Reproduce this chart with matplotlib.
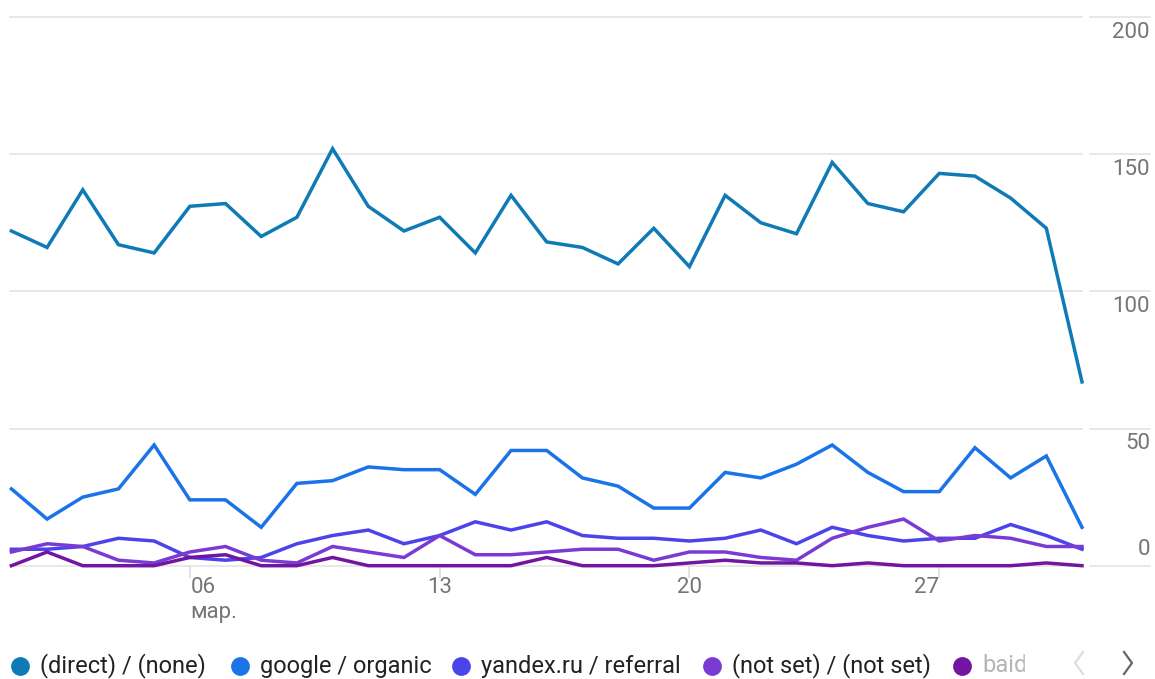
import matplotlib
matplotlib.use("Agg")
import matplotlib.pyplot as plt
from matplotlib.lines import Line2D
import matplotlib.transforms as mtransforms
import numpy as np

# days of March
days = list(range(1, 32))

direct = [122, 116, 137, 117, 114, 131, 132, 120, 127, 152, 131,
          122, 127, 114, 135, 118, 116, 110, 123, 109, 135, 125,
          121, 147, 132, 129, 143, 142, 134, 123, 67]
google = [28, 17, 25, 28, 44, 24, 24, 14, 30, 31, 36,
          35, 35, 26, 42, 42, 32, 29, 21, 21, 34, 32,
          37, 44, 34, 27, 27, 43, 32, 40, 14]
yandex = [6, 6, 7, 10, 9, 3, 2, 3, 8, 11, 13,
          8, 11, 16, 13, 16, 11, 10, 10, 9, 10, 13,
          8, 14, 11, 9, 10, 10, 15, 11, 6]
not_set = [5, 8, 7, 2, 1, 5, 7, 2, 1, 7, 5,
           3, 11, 4, 4, 5, 6, 6, 2, 5, 5, 3,
           2, 10, 14, 17, 9, 11, 10, 7, 7]
baidu = [0, 5, 0, 0, 0, 3, 4, 0, 0, 3, 0,
         0, 0, 0, 0, 3, 0, 0, 0, 1, 2, 1,
         1, 0, 1, 0, 0, 0, 0, 1, 0]

series_names = ['(direct) / (none)', 'google / organic', 'yandex.ru / referral',
                '(not set) / (not set)', 'baidu']
series_colors = ['#0f7bb6', '#1a73e8', '#4a44ea', '#7a3bd3', '#7215a0']

y_ticks = [0, 50, 100, 150, 200]
x_ticks = [6, 13, 20, 27]
x_labels = ['06', '13', '20', '27']

plt.rcParams['font.family'] = ['Roboto', 'DejaVu Sans']

W, H = 1155, 679
fig = plt.figure(figsize=(W / 100, H / 100), dpi=100)
x0, x1 = 11.4, 1082
y0, y1 = 565.7, 17
ax = fig.add_axes([x0 / W, 1 - y0 / H, (x1 - x0) / W, (y0 - y1) / H])
ax.set_xlim(1, 31)
ax.set_ylim(0, 200)
for s in ax.spines.values():
    s.set_visible(False)

# gridlines, plus the short pieces next to the value labels
trans = mtransforms.blended_transform_factory(ax.transAxes, ax.transData)
for v in y_ticks:
    ax.plot([-0.001, 1.0], [v, v], transform=trans, color='#e6e6e6', lw=1.3,
            clip_on=False, zorder=0)
    ax.plot([1.0075, 1.0635], [v, v], transform=trans, color='#e6e6e6', lw=1.3,
            clip_on=False, zorder=0)
    dy = 12 if v == 0 else -11
    ax.annotate(str(v), (1.0635, v), xycoords=trans, xytext=(0, dy),
                textcoords='offset points', ha='right', va='center',
                fontsize=16, color='#757575')

ax.set_yticks([])
ax.set_xticks(x_ticks)
ax.set_xticklabels([])
ax.tick_params(axis='x', length=8.5, width=1.2, color='#dddddd')

x_offsets = [10, 0, 0, -9]
for xv, lab, off in zip(x_ticks, x_labels, x_offsets):
    ax.annotate(lab, (xv, 0), xycoords='data', xytext=(off, -16),
                textcoords='offset points', ha='center', va='center',
                fontsize=16, color='#757575', annotation_clip=False)
ax.annotate('мар.', (x_ticks[0], 0), xycoords='data', xytext=(0, -34),
            textcoords='offset points', ha='left', va='center',
            fontsize=16, color='#757575', annotation_clip=False)

for vals, col in zip([direct, google, yandex, not_set, baidu], series_colors):
    ax.plot(days, vals, color=col, lw=2.5, solid_joinstyle='miter',
            clip_on=False, zorder=3)

# legend along the bottom
leg_y = 1 - 666 / H
leg_x = [20, 240, 461, 712, 962]
for name, col, lx in zip(series_names, series_colors, leg_x):
    fig.add_artist(Line2D([lx / W], [leg_y], marker='o', markersize=12.5,
                          color=col, lw=0, transform=fig.transFigure))
    tc = '#222222' if name != 'baidu' else '#b5b5b5'
    fig.text((lx + 20) / W, leg_y, name, ha='left', va='center',
             fontsize=17, color=tc)

# fade out the last (cut) legend item
fade = np.ones((1, 100, 4))
fade[0, :, 3] = np.linspace(0.0, 1.0, 100)
fax = fig.add_axes([992 / W, 1 - 680 / H, 34 / W, 30 / H])
fax.imshow(fade, aspect='auto', extent=[0, 1, 0, 1])
fax.set_axis_off()
fig.add_artist(plt.Rectangle((1025 / W, 0), 45 / W, 30 / H, color='white',
                             transform=fig.transFigure, zorder=5))

# paging arrows of the legend
def chevron(xc, direction, color):
    xs = [xc + 4 * direction, xc - 4 * direction, xc + 4 * direction]
    ys = [652, 663, 674]
    fig.add_artist(Line2D([x / W for x in xs], [1 - y / H for y in ys],
                          color=color, lw=1.6, transform=fig.transFigure,
                          zorder=6))

chevron(1079, 1, '#dddddd')
chevron(1128, -1, '#666666')

fig.savefig('out.png', dpi=100)
